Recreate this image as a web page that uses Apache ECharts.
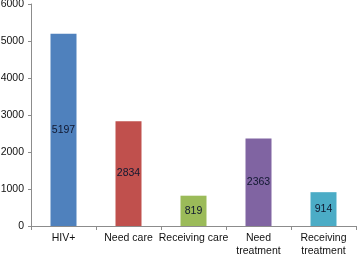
<!DOCTYPE html>
<html>
<head>
<meta charset="utf-8">
<script src="https://cdn.jsdelivr.net/npm/echarts@6/dist/echarts.min.js"></script>
<style>
  html, body { margin: 0; padding: 0; background: #fff; }
  #main { width: 358px; height: 255px; }
</style>
</head>
<body>
<div id="main"></div>
<script>
var categories = ['HIV+', 'Need care', 'Receiving care', 'Need\ntreatment', 'Receiving\ntreatment'];
var values = [5197, 2834, 819, 2363, 914];
var barColors = ['#4F81BD', '#C0504D', '#9BBB59', '#8064A2', '#4BACC6'];

var myChart = echarts.init(document.getElementById('main'));
myChart.setOption({
    animation: false,
    grid: { left: 31, right: 2, top: 4, bottom: 29, containLabel: false, outerBoundsMode: 'none' },
    xAxis: {
        type: 'category',
        data: categories,
        axisLine: { lineStyle: { color: '#8c8c8c' } },
        axisTick: { show: true, length: 4, lineStyle: { color: '#8c8c8c' } },
        axisLabel: {
            color: '#111',
            fontSize: 10.5,
            fontFamily: 'Liberation Sans, Arial, sans-serif',
            margin: 6,
            lineHeight: 13,
            interval: 0
        }
    },
    yAxis: {
        type: 'value',
        min: 0,
        max: 6000,
        interval: 1000,
        axisLine: { show: true, lineStyle: { color: '#8c8c8c' } },
        axisTick: { show: true, length: 3, lineStyle: { color: '#8c8c8c' } },
        splitLine: { show: false },
        axisLabel: {
            color: '#111',
            fontSize: 10.5,
            fontFamily: 'Liberation Sans, Arial, sans-serif',
            margin: 7,
            formatter: function (v) { return String(v); }
        }
    },
    series: [{
        type: 'bar',
        data: values.map(function (v, i) {
            return { value: v, itemStyle: { color: barColors[i] } };
        }),
        barWidth: 26,
        label: {
            show: true,
            position: 'inside',
            color: '#101830',
            fontSize: 10.5,
            fontFamily: 'Liberation Sans, Arial, sans-serif'
        }
    }]
});
</script>
</body>
</html>
